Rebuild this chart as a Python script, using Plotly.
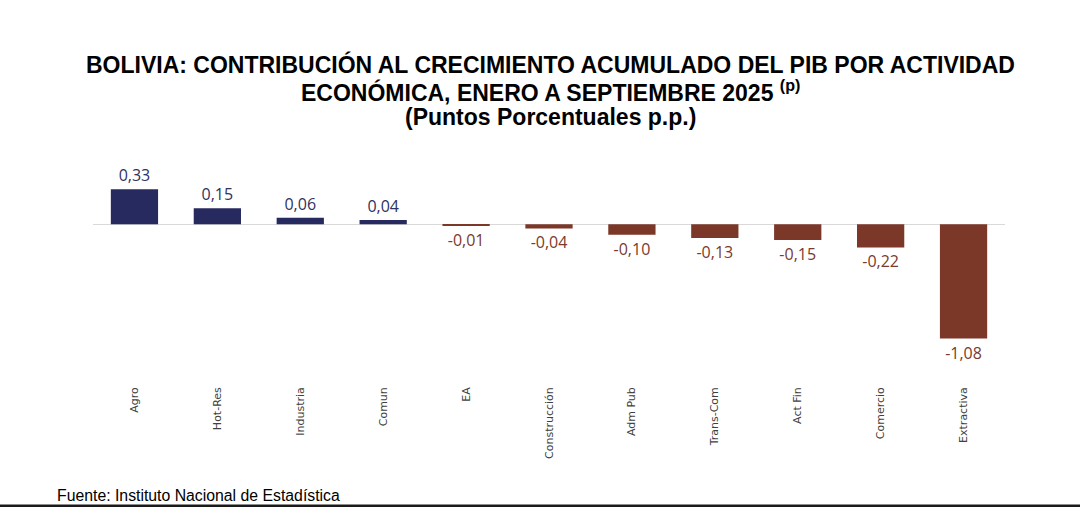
import plotly.graph_objects as go

categories = ["Agro", "Hot-Res", "Industria", "Comun", "EA", "Construcción",
              "Adm Pub", "Trans-Com", "Act Fin", "Comercio", "Extractiva"]
values = [0.33, 0.15, 0.06, 0.04, -0.01, -0.04, -0.10, -0.13, -0.15, -0.22, -1.08]

title_lines = [
    "<b>BOLIVIA: CONTRIBUCIÓN AL CRECIMIENTO ACUMULADO DEL PIB POR ACTIVIDAD</b>",
    "<b>ECONÓMICA, ENERO A SEPTIEMBRE 2025 <sup>(p)</sup></b>",
    "<b>(Puntos Porcentuales p.p.)</b>",
]
source_text = "Fuente: Instituto Nacional de Estadística"

POS_COLOR = "#272a5f"
NEG_COLOR = "#7b3728"
POS_TEXT = "#2f3160"
NEG_TEXT = "#7a3a2c"

bar_colors = [POS_COLOR if v >= 0 else NEG_COLOR for v in values]
text_colors = [POS_TEXT if v >= 0 else NEG_TEXT for v in values]

W, H = 1080, 507
ml, mr, mt, mb = 93, 75, 150, 125
pw = W - ml - mr
ph = H - mt - mb


def py(ypix):
    return (H - mb - ypix) / ph


def px(xpix):
    return (xpix - ml) / pw


fig = go.Figure(go.Bar(
    x=categories, y=values,
    marker=dict(color=bar_colors, line=dict(width=0)),
    texttemplate="%{y:.2f}",
    textposition="outside",
    textfont=dict(family="Open Sans, Noto Sans, sans-serif", size=16, color=text_colors),
    cliponaxis=False,
))

fig.update_layout(
    width=W, height=H,
    margin=dict(l=ml, r=mr, t=mt, b=mb, pad=0),
    paper_bgcolor="#ffffff", plot_bgcolor="#ffffff",
    separators=",.",
    bargap=0.43,
    showlegend=False,
    xaxis=dict(
        type="category", tickangle=-90, showgrid=False, showline=False,
        ticks="", tickfont=dict(family="DejaVu Sans, sans-serif", size=11, color="#404040"),
        ticklabelstandoff=2,
    ),
    yaxis=dict(
        range=[-1.49, 0.70], visible=True, showticklabels=False, showgrid=False,
        zeroline=True, zerolinecolor="#d9d9d9", zerolinewidth=1, showline=False, ticks="",
    ),
)

title_y = [64, 91, 117]
for txt, yy in zip(title_lines, title_y):
    fig.add_annotation(
        text=txt, xref="paper", yref="paper",
        x=px(550), y=py(yy), xanchor="center", yanchor="middle", showarrow=False,
        font=dict(family="Liberation Sans, Arial, sans-serif", size=23, color="#000000"),
    )

fig.add_annotation(
    text=source_text,
    xref="paper", yref="paper",
    x=px(55), y=py(495),
    xanchor="left", yanchor="middle", showarrow=False,
    font=dict(family="Liberation Sans, Arial, sans-serif", size=15.8, color="#000000"),
)
fig.add_shape(
    type="line", xref="paper", yref="paper",
    x0=px(0), x1=px(W),
    y0=py(506), y1=py(506),
    line=dict(color="#1a1a1a", width=3),
)

fig.write_html("out.html")
